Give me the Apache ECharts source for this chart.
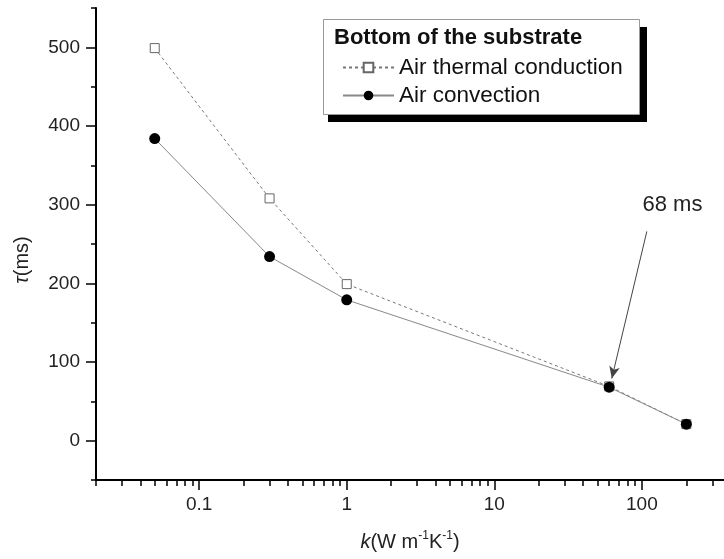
<!DOCTYPE html>
<html>
<head>
<meta charset="utf-8">
<script src="https://cdn.jsdelivr.net/npm/echarts@6/dist/echarts.min.js"></script>
<style>
html,body{margin:0;padding:0;background:#fff;}
#chart{width:724px;height:559px;}
</style>
</head>
<body>
<div id="chart"></div>
<script>
// ---- data ----
var kValues = [0.05, 0.3, 1, 60, 200];
var conductionValues = [499, 308, 199, 69, 21];
var convectionValues = [384, 234, 179, 68, 21];
var xMajorTicks = [0.1, 1, 10, 100];
var xMinorTicks = [0.02,0.03,0.04,0.05,0.06,0.07,0.08,0.09,0.2,0.3,0.4,0.5,0.6,0.7,0.8,0.9,2,3,4,5,6,7,8,9,20,30,40,50,60,70,80,90,200,300];
var yMajorTicks = [0, 100, 200, 300, 400, 500];
var seriesNames = ['Air thermal conduction', 'Air convection'];
var legendTitle = 'Bottom of the substrate';
var annotationText = '68 ms';
var arrowStart = [108, 266];
var arrowEnd = [62.5, 79];
var annotationLabelAt = [161, 300];

function pairs(xs, ys){ return xs.map(function(x,i){ return [x, ys[i]]; }); }

var FONT = '"Liberation Sans", Arial, sans-serif';
var chart = echarts.init(document.getElementById('chart'));
var xBase = {type:'log', logBase:10, min:0.02, max:360, splitLine:{show:false}};
var yBase = {type:'value', min:-50, max:550, interval:50, splitLine:{show:false}};

chart.setOption({
  animation:false,
  backgroundColor:'#fff',
  textStyle:{fontFamily:FONT},
  grid:{left:96, top:8, right:0, bottom:79, containLabel:false},
  xAxis:[
    Object.assign({}, xBase, {
      position:'bottom',
      axisLine:{show:true, onZero:false, lineStyle:{color:'#000', width:2}},
      axisTick:{show:true, inside:false, length:10, customValues:xMajorTicks, lineStyle:{color:'#000', width:1.5}},
      axisLabel:{show:true, customValues:xMajorTicks, margin:15, fontSize:19, color:'#222', fontFamily:FONT,
        formatter:function(v){ return String(v); }},
      name:'{i|k}(W m{s|-1}K{s|-1})',
      nameLocation:'middle', nameGap:50,
      nameTextStyle:{fontSize:20, color:'#222', fontFamily:FONT, lineHeight:24,
        rich:{i:{fontStyle:'italic', fontSize:20, fontFamily:FONT, color:'#222', lineHeight:24},
              s:{fontSize:12, fontFamily:FONT, color:'#222', verticalAlign:'top', lineHeight:12}}}
    }),
    Object.assign({}, xBase, {
      position:'bottom',
      axisLine:{show:false, onZero:false},
      axisTick:{show:true, inside:false, length:6, customValues:xMinorTicks, lineStyle:{color:'#000', width:1.5}},
      axisLabel:{show:false}
    })
  ],
  yAxis:[
    Object.assign({}, yBase, {
      position:'left',
      axisLine:{show:true, onZero:false, lineStyle:{color:'#000', width:2}},
      axisTick:{show:true, inside:false, length:5, lineStyle:{color:'#000', width:1.5}},
      axisLabel:{show:true, margin:16, fontSize:19, color:'#222', fontFamily:FONT,
        formatter:function(v){ return yMajorTicks.indexOf(v) >= 0 ? String(v) : ''; }},
      name:'{i|τ}(ms)',
      nameLocation:'middle', nameGap:64, nameRotate:90,
      nameTextStyle:{fontSize:20, color:'#222', fontFamily:FONT, padding:[0,32,0,0],
        rich:{i:{fontStyle:'italic', fontSize:20, fontFamily:FONT, color:'#222'}}}
    }),
    Object.assign({}, yBase, {
      position:'left',
      axisLine:{show:false, onZero:false},
      axisTick:{show:true, inside:false, length:10, customValues:yMajorTicks, lineStyle:{color:'#000', width:1.5}},
      axisLabel:{show:false}
    })
  ],
  legend:{
    orient:'vertical', left:337, top:51, itemGap:5,
    itemWidth:51, itemHeight:12,
    textStyle:{fontSize:22.5, color:'#111', fontFamily:FONT},
    data:seriesNames
  },
  graphic:[
    {type:'rect', z:-1, shape:{x:328, y:27, width:319, height:95}, style:{fill:'#000'}, silent:true},
    {type:'rect', z:0, shape:{x:323.5, y:19.5, width:316, height:95}, style:{fill:'#fff', stroke:'#999', lineWidth:1}, silent:true},
    {type:'text', z:1, left:334, top:27, style:{text:legendTitle, font:'bold 22px ' + FONT, fill:'#111'}, silent:true}
  ],
  series:[
    {
      name:seriesNames[0], type:'line', xAxisIndex:0, yAxisIndex:0,
      data:pairs(kValues, conductionValues),
      symbol:'rect', symbolSize:9, showAllSymbol:true,
      lineStyle:{color:'#777', width:1, type:[3,3]},
      itemStyle:{color:'#fff', borderColor:'#666', borderWidth:1},
      z:2
    },
    {
      name:seriesNames[1], type:'line', xAxisIndex:0, yAxisIndex:0,
      data:pairs(kValues, convectionValues),
      symbol:'circle', symbolSize:11, showAllSymbol:true,
      lineStyle:{color:'#888', width:1, type:'solid'},
      itemStyle:{color:'#000', borderColor:'#000', borderWidth:0},
      z:3,
      markLine:{
        silent:true, symbol:['none','arrow'], symbolSize:[8,12],
        lineStyle:{color:'#444', width:1, type:'solid'},
        label:{show:false},
        data:[[{coord:arrowStart}, {coord:arrowEnd}]]
      },
      markPoint:{
        silent:true, symbol:'circle', symbolSize:0,
        label:{show:true, position:'inside', formatter:annotationText, fontSize:22, color:'#222', fontFamily:FONT},
        data:[{coord:annotationLabelAt}]
      }
    }
  ]
});
</script>
</body>
</html>
